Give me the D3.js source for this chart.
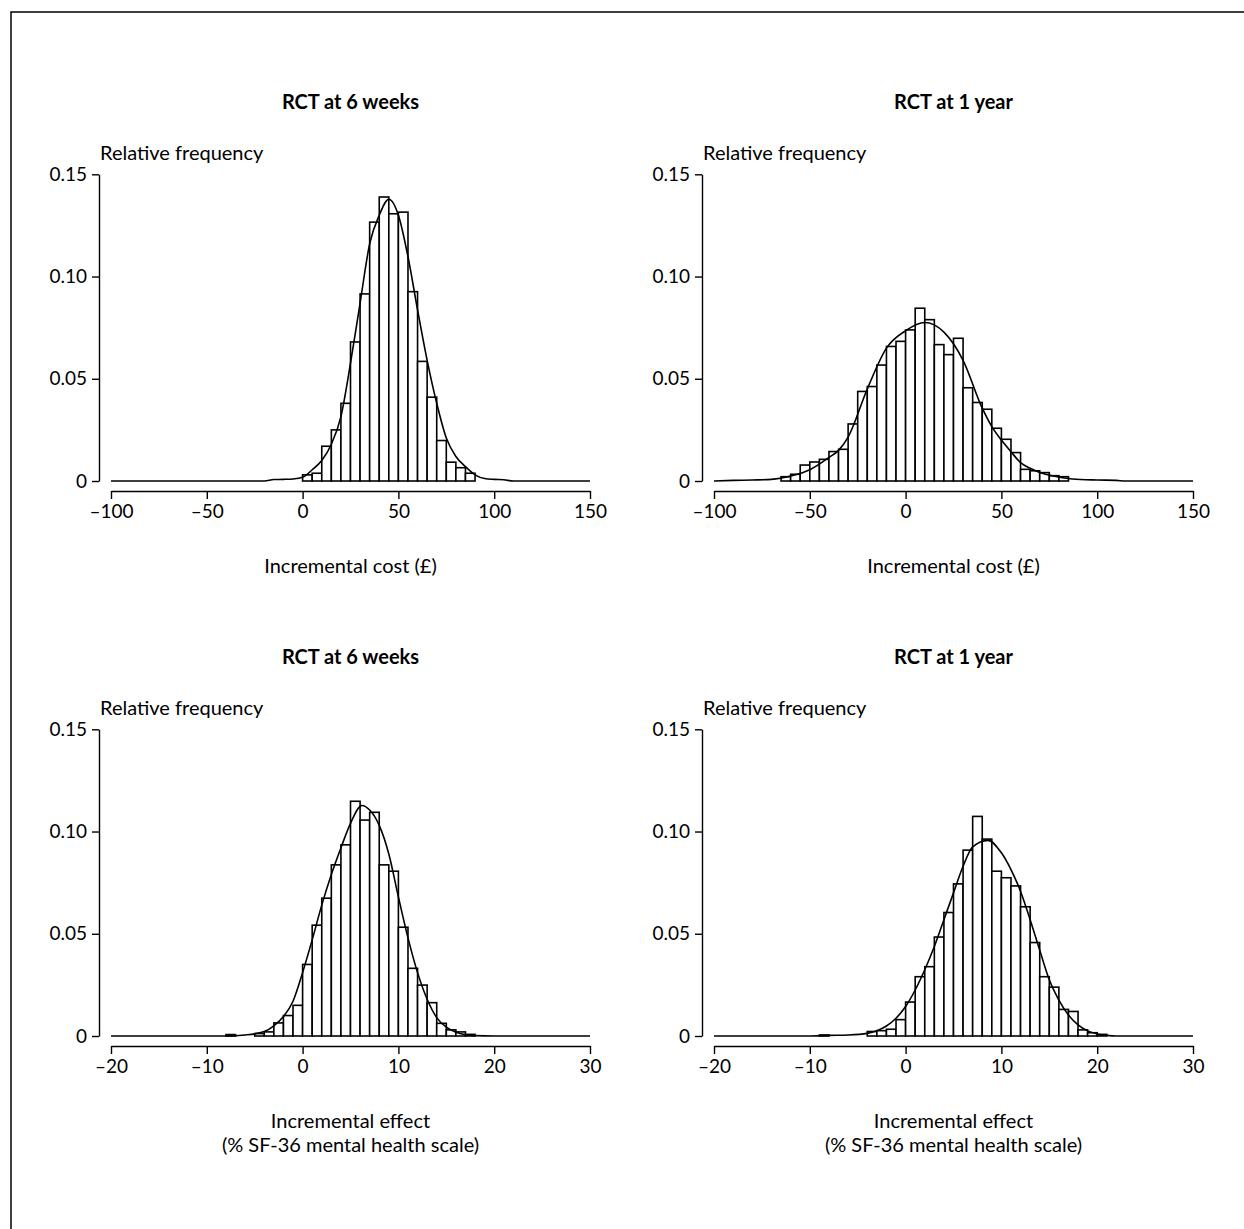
<!DOCTYPE html>
<html><head><meta charset="utf-8">
<script src="https://cdn.jsdelivr.net/npm/d3@7"></script>
<style>
html,body{margin:0;padding:0;background:#fff;}
svg{display:block;font-family:Lato,"Open Sans",sans-serif;}
</style></head>
<body><svg id="chart" width="1244" height="1229"></svg>
<script>
// ---- axis ticks ----
const costTicks = [-100, -50, 0, 50, 100, 150];
const costTickLabels = ["–100", "–50", "0", "50", "100", "150"];
const effectTicks = [-20, -10, 0, 10, 20, 30];
const effectTickLabels = ["–20", "–10", "0", "10", "20", "30"];
const freqTicks = [0, 0.05, 0.10, 0.15];
const freqTickLabels = ["0", "0.05", "0.10", "0.15"];

// ---- titles ----
const panelTitles = ["RCT at 6 weeks", "RCT at 1 year", "RCT at 6 weeks", "RCT at 1 year"];
const yAxisTitle = "Relative frequency";
const costAxisTitle = ["Incremental cost (£)"];
const effectAxisTitle = ["Incremental effect", "(% SF-36 mental health scale)"];

// ---- cost, 6 weeks (bin width 5) ----
const cost6wBins = [0, 5, 10, 15, 20, 25, 30, 35, 40, 45, 50, 55, 60, 65, 70, 75, 80, 85];
const cost6wFreq = [0.003, 0.0038, 0.017, 0.025, 0.038, 0.068, 0.0915, 0.1266, 0.1389, 0.1307, 0.1315, 0.0926, 0.0585, 0.041, 0.0198, 0.0092, 0.0065, 0.0038];
const cost6wCurveX = [-100, -20, -15, -10, -5, 0, 5, 10, 15, 20, 25, 30, 35, 40, 45, 50, 55, 60, 65, 70, 75, 80, 85, 90, 95, 100, 105, 110, 150];
const cost6wCurveY = [0, 0, 0.0007, 0.0008, 0.001, 0.0018, 0.0055, 0.010, 0.018, 0.0315, 0.0576, 0.087, 0.116, 0.130, 0.1378, 0.130, 0.1097, 0.0837, 0.059, 0.038, 0.021, 0.012, 0.007, 0.003, 0.0012, 0.0008, 0.0006, 0, 0];

// ---- cost, 1 year (bin width 5) ----
const cost1yBins = [-65, -60, -55, -50, -45, -40, -35, -30, -25, -20, -15, -10, -5, 0, 5, 10, 15, 20, 25, 30, 35, 40, 45, 50, 55, 60, 65, 70, 75, 80];
const cost1yFreq = [0.0021, 0.0033, 0.0078, 0.0093, 0.0106, 0.0144, 0.0155, 0.0279, 0.0438, 0.0462, 0.0567, 0.0658, 0.0683, 0.0739, 0.0845, 0.0789, 0.0667, 0.0618, 0.0698, 0.0456, 0.0384, 0.0351, 0.0258, 0.0204, 0.0139, 0.0057, 0.005, 0.0041, 0.0026, 0.0021];
const cost1yCurveX = [-100, -90, -80, -70, -60, -50, -40, -35, -30, -20, -10, 0, 10, 20, 30, 40, 45, 50, 55, 60, 65, 70, 77, 87, 100, 110, 115, 150];
const cost1yCurveY = [0, 0.0003, 0.0005, 0.0008, 0.0024, 0.0055, 0.0115, 0.015, 0.0215, 0.045, 0.065, 0.0735, 0.0775, 0.0728, 0.059, 0.0356, 0.0266, 0.020, 0.0143, 0.009, 0.0062, 0.0042, 0.0024, 0.001, 0.0005, 0.0003, 0, 0];

// ---- effect, 6 weeks (bin width 1) ----
const eff6wBins = [-8, -5, -4, -3, -2, -1, 0, 1, 2, 3, 4, 5, 6, 7, 8, 9, 10, 11, 12, 13, 14, 15, 16, 17];
const eff6wFreq = [0.0007, 0.0012, 0.002, 0.0064, 0.01, 0.015, 0.035, 0.0542, 0.0674, 0.0837, 0.0935, 0.1148, 0.1056, 0.1094, 0.0837, 0.0806, 0.0532, 0.0331, 0.0249, 0.0163, 0.0062, 0.003, 0.002, 0.0008];
const eff6wCurveX = [-20, -8, -6, -4, -3, -2, -1, 0, 1, 2, 3, 4, 5, 6.2, 7, 8, 9, 10, 11, 12, 13, 14, 15, 16, 17, 18, 20, 30];
const eff6wCurveY = [0, 0, 0.0005, 0.0022, 0.005, 0.0095, 0.017, 0.031, 0.047, 0.064, 0.079, 0.092, 0.104, 0.1127, 0.1105, 0.103, 0.089, 0.068, 0.048, 0.031, 0.018, 0.009, 0.0043, 0.0018, 0.0006, 0.0002, 0, 0];

// ---- effect, 1 year (bin width 1) ----
const eff1yBins = [-9, -4, -3, -2, -1, 0, 1, 2, 3, 4, 5, 6, 7, 8, 9, 10, 11, 12, 13, 14, 15, 16, 17, 18, 19, 20];
const eff1yFreq = [0.0005, 0.0022, 0.0026, 0.0033, 0.008, 0.0166, 0.029, 0.0339, 0.0484, 0.0604, 0.0744, 0.0909, 0.1074, 0.0963, 0.0806, 0.0774, 0.0734, 0.0632, 0.0457, 0.029, 0.0239, 0.013, 0.012, 0.003, 0.0016, 0.0008];
const eff1yCurveX = [-20, -10, -8, -6, -4, -3, -2, -1, 0, 1, 2, 3, 4, 5, 6, 7, 8.6, 10, 11, 12, 13, 14, 15, 16, 17, 18, 19, 20, 21, 22, 30];
const eff1yCurveY = [0, 0, 0.0003, 0.0005, 0.0013, 0.0026, 0.0049, 0.0087, 0.0144, 0.0225, 0.0324, 0.0438, 0.0569, 0.070, 0.083, 0.0925, 0.0957, 0.0896, 0.0814, 0.0707, 0.0569, 0.042, 0.0275, 0.0176, 0.0103, 0.0054, 0.0025, 0.001, 0.0003, 0, 0];

// ---- build panels ----
const panels = [
  {col:0,row:0,title:panelTitles[0],bins:cost6wBins,freq:cost6wFreq,bw:5,cx:cost6wCurveX,cy:cost6wCurveY,xd:[-100,150],xt:costTicks,xl:costTickLabels,xTitle:costAxisTitle},
  {col:1,row:0,title:panelTitles[1],bins:cost1yBins,freq:cost1yFreq,bw:5,cx:cost1yCurveX,cy:cost1yCurveY,xd:[-100,150],xt:costTicks,xl:costTickLabels,xTitle:costAxisTitle},
  {col:0,row:1,title:panelTitles[2],bins:eff6wBins,freq:eff6wFreq,bw:1,cx:eff6wCurveX,cy:eff6wCurveY,xd:[-20,30],xt:effectTicks,xl:effectTickLabels,xTitle:effectAxisTitle},
  {col:1,row:1,title:panelTitles[3],bins:eff1yBins,freq:eff1yFreq,bw:1,cx:eff1yCurveX,cy:eff1yCurveY,xd:[-20,30],xt:effectTicks,xl:effectTickLabels,xTitle:effectAxisTitle}
];

const svg = d3.select("#chart");
// outer frame
svg.append("rect").attr("x",11).attr("y",12).attr("width",1300).attr("height",1300)
  .attr("fill","none").attr("stroke","#000").attr("stroke-width",1.5);

const colDx = 603, rowDy = 555;

panels.forEach(p => {
  const dx = p.col*colDx, dy = p.row*rowDy;
  const x = d3.scaleLinear().domain(p.xd).range([111+dx, 590+dx]);
  const y = d3.scaleLinear().domain([0,0.15]).range([481+dy, 174.3+dy]);
  const g = svg.append("g");
  const cxm = (111+590)/2 + dx;

  // title
  g.append("text").attr("x",cxm).attr("y",109+dy).attr("text-anchor","middle")
    .attr("font-size",20).attr("font-weight","bold").text(p.title);
  // y title
  g.append("text").attr("x",100+dx).attr("y",160+dy).attr("font-size",20).text(yAxisTitle);

  // y axis
  const yAx = d3.axisLeft(y).tickValues(freqTicks).tickFormat((d,i)=>freqTickLabels[i]).tickSize(7).tickSizeOuter(0).tickPadding(5);
  const ya = g.append("g").attr("transform",`translate(${99+dx},0)`).call(yAx);
  ya.select(".domain").attr("stroke-width",1.4);
  ya.selectAll(".tick line").attr("stroke-width",1.4);
  ya.selectAll("text").attr("font-size",19).attr("font-family","Lato,'Open Sans',sans-serif").attr("fill","#000");

  // x axis
  const xAx = d3.axisBottom(x).tickValues(p.xt).tickFormat((d,i)=>p.xl[i]).tickSize(8).tickSizeOuter(0).tickPadding(6);
  const xa = g.append("g").attr("transform",`translate(0,${491+dy})`).call(xAx);
  xa.select(".domain").attr("stroke-width",1.4);
  xa.selectAll(".tick line").attr("stroke-width",1.4);
  xa.selectAll("text").attr("font-size",19).attr("font-family","Lato,'Open Sans',sans-serif").attr("fill","#000");

  // x title
  p.xTitle.forEach((t,i)=>{
    g.append("text").attr("x",cxm).attr("y",573+dy+i*24).attr("text-anchor","middle")
      .attr("font-size",20).text(t);
  });

  // bars
  const bars = p.bins.map((b,i)=>({x0:b,x1:b+p.bw,v:p.freq[i]}));
  g.selectAll("rect.bar").data(bars).enter().append("rect").attr("class","bar")
    .attr("x",d=>x(d.x0)).attr("width",d=>x(d.x1)-x(d.x0))
    .attr("y",d=>y(d.v)).attr("height",d=>y(0)-y(d.v))
    .attr("fill","#fff").attr("stroke","#000").attr("stroke-width",1.6);

  // curve
  const pts = p.cx.map((v,i)=>[v,p.cy[i]]);
  const line = d3.line().x(d=>x(d[0])).y(d=>y(d[1])).curve(d3.curveMonotoneX);
  g.append("path").attr("d",line(pts)).attr("fill","none").attr("stroke","#000").attr("stroke-width",1.6);
});
</script></body></html>
